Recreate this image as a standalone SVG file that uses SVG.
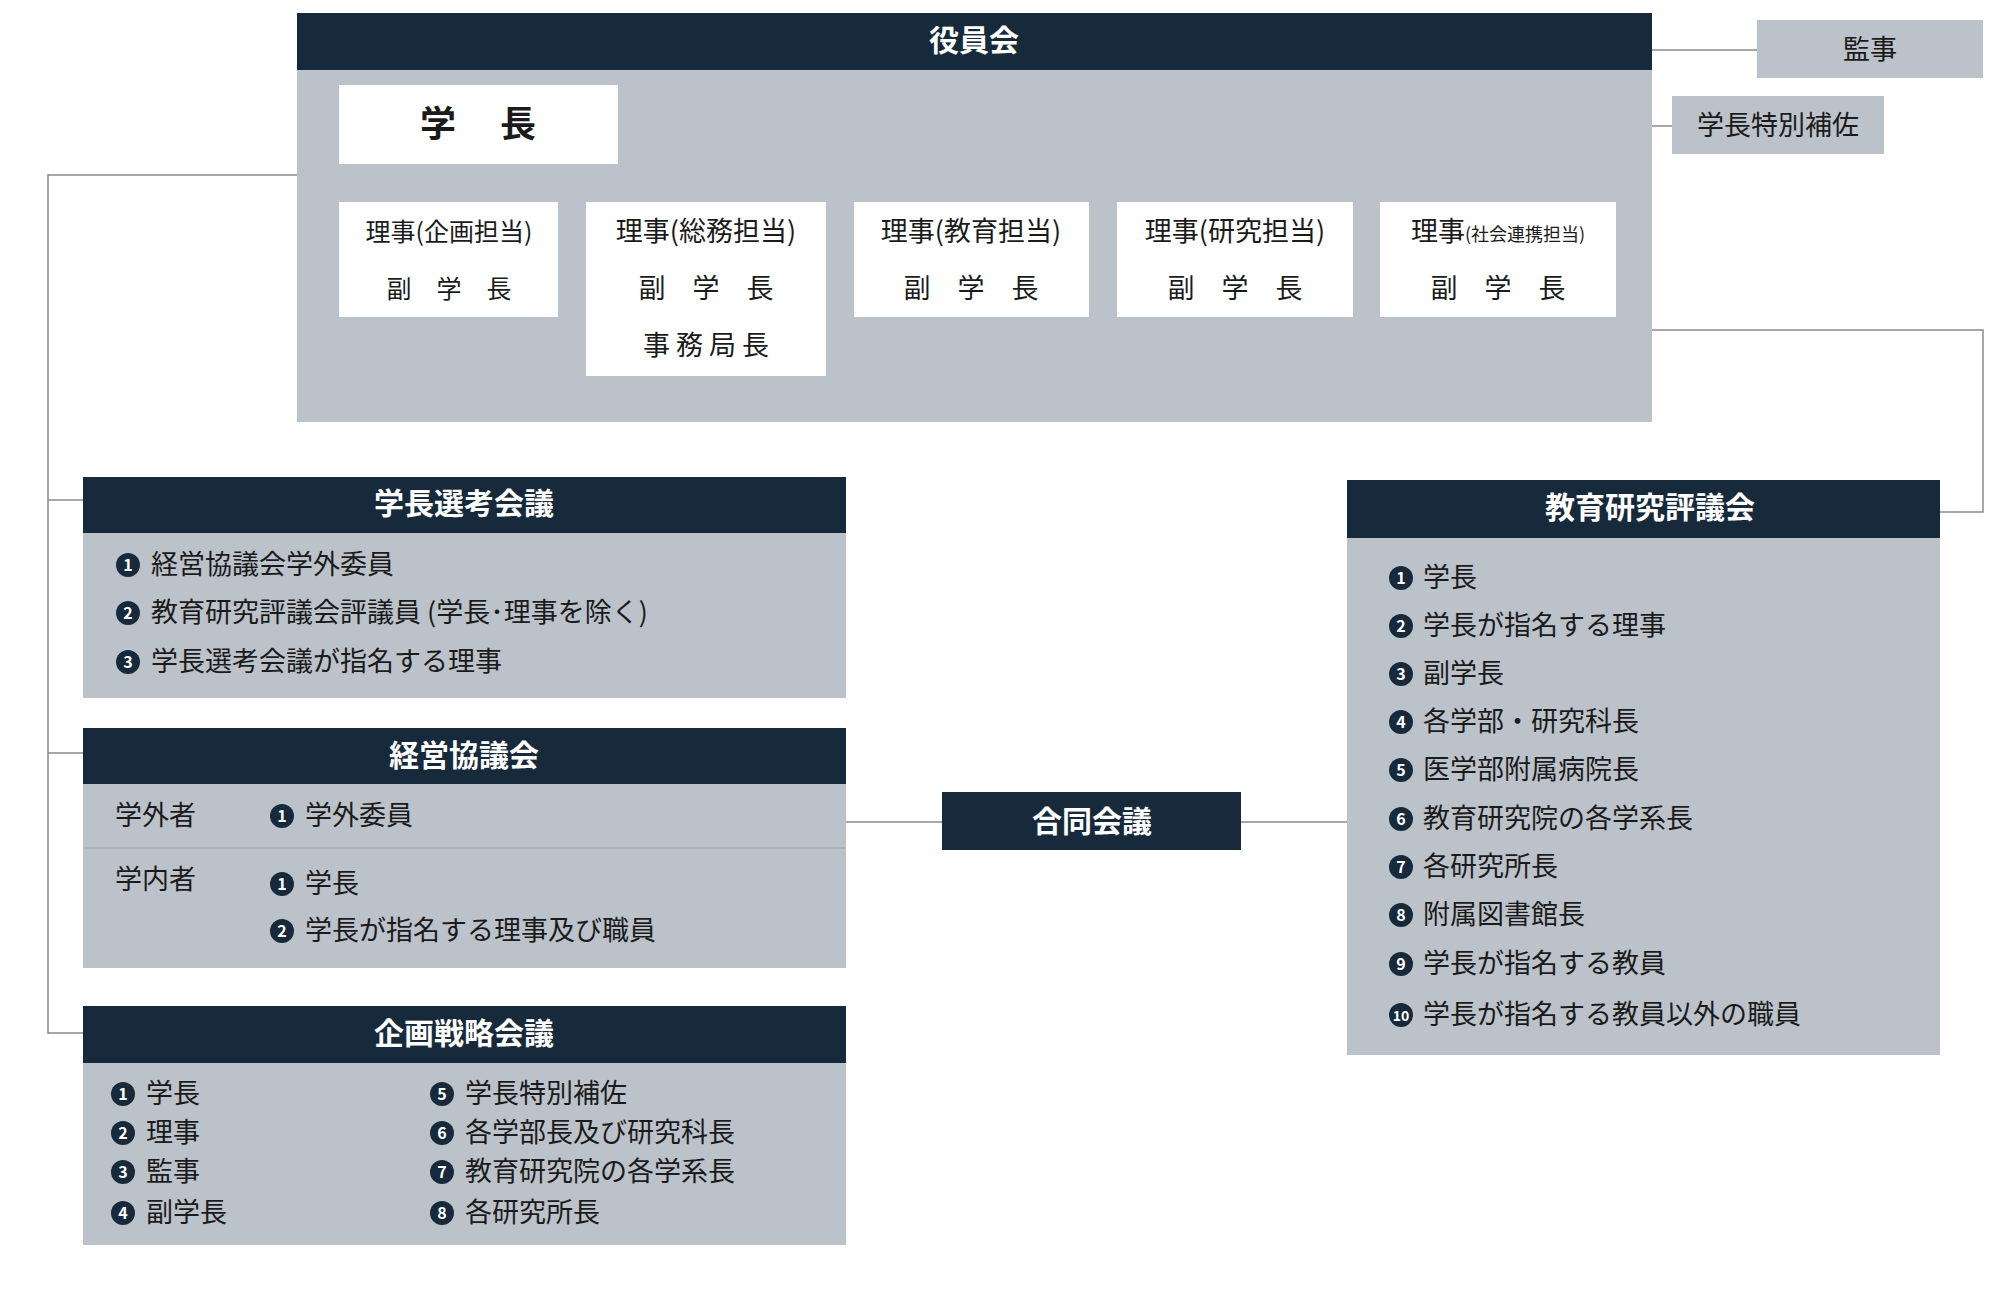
<svg xmlns="http://www.w3.org/2000/svg" width="2000" height="1290" viewBox="0 0 2000 1290">
<style>
text{font-family:"Noto Sans CJK JP","Noto Sans",sans-serif;fill:#1b1b1b}
.hd{fill:#172a3b}.bg{fill:#bbc2c9}.wb{fill:#fff}
.ht{fill:#fff;font-size:30px;font-weight:bold;text-anchor:middle}
.it{font-size:27px}
.sb{font-size:27px;text-anchor:middle}
.ln{stroke:#8a8a8a;stroke-width:1.5;fill:none}
.nc{fill:#172a3b}.nt{fill:#fff;font-size:16px;font-weight:bold;text-anchor:middle}
</style>
<defs>
<g id="c"><circle r="12" class="nc"/></g>
</defs>
<g id="connectors" class="ln">
<path d="M1652 50H1757"/>
<path d="M618 126H1672"/>
<path d="M446 164V183M446 183H1502M446 183V202M707 183V202M973 183V202M1239 183V202M1502 183V202"/>
<path d="M1652 330H1983V512H1940"/>
<path d="M297 175H48V1033H83M48 500H83M48 753H83"/>
<path d="M846 822H942M1241 822H1347"/>
</g>
<g id="yakuinkai">
<rect x="297" y="13" width="1355" height="409" class="bg"/>
<rect x="297" y="13" width="1355" height="57" class="hd"/>
<text x="974" y="51" class="ht">役員会</text>
</g>
<g id="gakucho">
<rect x="339" y="85" width="279" height="79" class="wb"/>
<text x="478" y="137" style="font-size:36px;font-weight:bold;text-anchor:middle">学　 長</text>
</g>
<g id="r1"><rect x="339" y="202" width="219" height="115" class="wb"/>
<text x="449" y="241" class="sb" style="font-size:25px">理事(企画担当)</text><text x="449" y="298" class="sb" style="font-size:25px">副　学　長</text></g>
<g id="r2"><rect x="586" y="202" width="240" height="174" class="wb"/>
<text x="706" y="241" class="sb">理事(総務担当)</text><text x="706" y="298" class="sb">副　学　長</text><text x="706" y="355" class="sb">事 務 局 長</text></g>
<g id="r3"><rect x="854" y="202" width="235" height="115" class="wb"/>
<text x="971" y="241" class="sb">理事(教育担当)</text><text x="971" y="298" class="sb">副　学　長</text></g>
<g id="r4"><rect x="1117" y="202" width="236" height="115" class="wb"/>
<text x="1235" y="241" class="sb">理事(研究担当)</text><text x="1235" y="298" class="sb">副　学　長</text></g>
<g id="r5"><rect x="1380" y="202" width="236" height="115" class="wb"/>
<text x="1498" y="241" class="sb">理事<tspan style="font-size:18px">(社会連携担当)</tspan></text><text x="1498" y="298" class="sb">副　学　長</text></g>
<g id="kanji"><rect x="1757" y="20" width="226" height="58" class="bg"/><text x="1870" y="59" class="sb">監事</text></g>
<g id="tokubetsu"><rect x="1672" y="96" width="212" height="58" class="bg"/><text x="1778" y="135" class="sb">学長特別補佐</text></g>

<g id="senko">
<rect x="83" y="477" width="763" height="221" class="bg"/>
<rect x="83" y="477" width="763" height="56" class="hd"/>
<text x="464" y="514" class="ht">学長選考会議</text>
<use href="#c" x="128" y="565"/><text x="128" y="571" class="nt">1</text><text x="151" y="574" class="it">経営協議会学外委員</text>
<use href="#c" x="128" y="613"/><text x="128" y="619" class="nt">2</text><text x="151" y="622" class="it">教育研究評議会評議員 (学長･理事を除く)</text>
<use href="#c" x="128" y="662"/><text x="128" y="668" class="nt">3</text><text x="151" y="671" class="it">学長選考会議が指名する理事</text>
</g>
<g id="keiei">
<rect x="83" y="728" width="763" height="240" class="bg"/>
<rect x="83" y="728" width="763" height="56" class="hd"/>
<text x="464" y="766" class="ht">経営協議会</text>
<line x1="83" y1="848" x2="846" y2="848" stroke="#a7aeb5" stroke-width="1.5"/>
<text x="115" y="825" class="it">学外者</text>
<use href="#c" x="282" y="816"/><text x="282" y="822" class="nt">1</text><text x="305" y="825" class="it">学外委員</text>
<text x="115" y="889" class="it">学内者</text>
<use href="#c" x="282" y="884"/><text x="282" y="890" class="nt">1</text><text x="305" y="893" class="it">学長</text>
<use href="#c" x="282" y="931"/><text x="282" y="937" class="nt">2</text><text x="305" y="940" class="it">学長が指名する理事及び職員</text>
</g>
<g id="kikaku">
<rect x="83" y="1006" width="763" height="239" class="bg"/>
<rect x="83" y="1006" width="763" height="57" class="hd"/>
<text x="464" y="1044" class="ht">企画戦略会議</text>
<use href="#c" x="123" y="1094"/><text x="123" y="1100" class="nt">1</text><text x="146" y="1103" class="it">学長</text>
<use href="#c" x="123" y="1133"/><text x="123" y="1139" class="nt">2</text><text x="146" y="1142" class="it">理事</text>
<use href="#c" x="123" y="1172"/><text x="123" y="1178" class="nt">3</text><text x="146" y="1181" class="it">監事</text>
<use href="#c" x="123" y="1213"/><text x="123" y="1219" class="nt">4</text><text x="146" y="1222" class="it">副学長</text>
<use href="#c" x="442" y="1094"/><text x="442" y="1100" class="nt">5</text><text x="465" y="1103" class="it">学長特別補佐</text>
<use href="#c" x="442" y="1133"/><text x="442" y="1139" class="nt">6</text><text x="465" y="1142" class="it">各学部長及び研究科長</text>
<use href="#c" x="442" y="1172"/><text x="442" y="1178" class="nt">7</text><text x="465" y="1181" class="it">教育研究院の各学系長</text>
<use href="#c" x="442" y="1213"/><text x="442" y="1219" class="nt">8</text><text x="465" y="1222" class="it">各研究所長</text>
</g>
<g id="godo">
<rect x="942" y="792" width="299" height="58" class="hd"/>
<text x="1092" y="832" class="ht">合同会議</text>
</g>
<g id="hyogikai">
<rect x="1347" y="480" width="593" height="575" class="bg"/>
<rect x="1347" y="480" width="593" height="58" class="hd"/>
<text x="1650" y="518" class="ht">教育研究評議会</text>
<use href="#c" x="1401" y="578"/><text x="1401" y="584" class="nt">1</text><text x="1423" y="587" class="it">学長</text>
<use href="#c" x="1401" y="626"/><text x="1401" y="632" class="nt">2</text><text x="1423" y="635" class="it">学長が指名する理事</text>
<use href="#c" x="1401" y="674"/><text x="1401" y="680" class="nt">3</text><text x="1423" y="683" class="it">副学長</text>
<use href="#c" x="1401" y="722"/><text x="1401" y="728" class="nt">4</text><text x="1423" y="731" class="it">各学部・研究科長</text>
<use href="#c" x="1401" y="770"/><text x="1401" y="776" class="nt">5</text><text x="1423" y="779" class="it">医学部附属病院長</text>
<use href="#c" x="1401" y="819"/><text x="1401" y="825" class="nt">6</text><text x="1423" y="828" class="it">教育研究院の各学系長</text>
<use href="#c" x="1401" y="867"/><text x="1401" y="873" class="nt">7</text><text x="1423" y="876" class="it">各研究所長</text>
<use href="#c" x="1401" y="915"/><text x="1401" y="921" class="nt">8</text><text x="1423" y="924" class="it">附属図書館長</text>
<use href="#c" x="1401" y="964"/><text x="1401" y="970" class="nt">9</text><text x="1423" y="973" class="it">学長が指名する教員</text>
<use href="#c" x="1401" y="1015"/><text x="1401" y="1021" class="nt" style="font-size:14px">10</text><text x="1423" y="1024" class="it">学長が指名する教員以外の職員</text>
</g>
</svg>
